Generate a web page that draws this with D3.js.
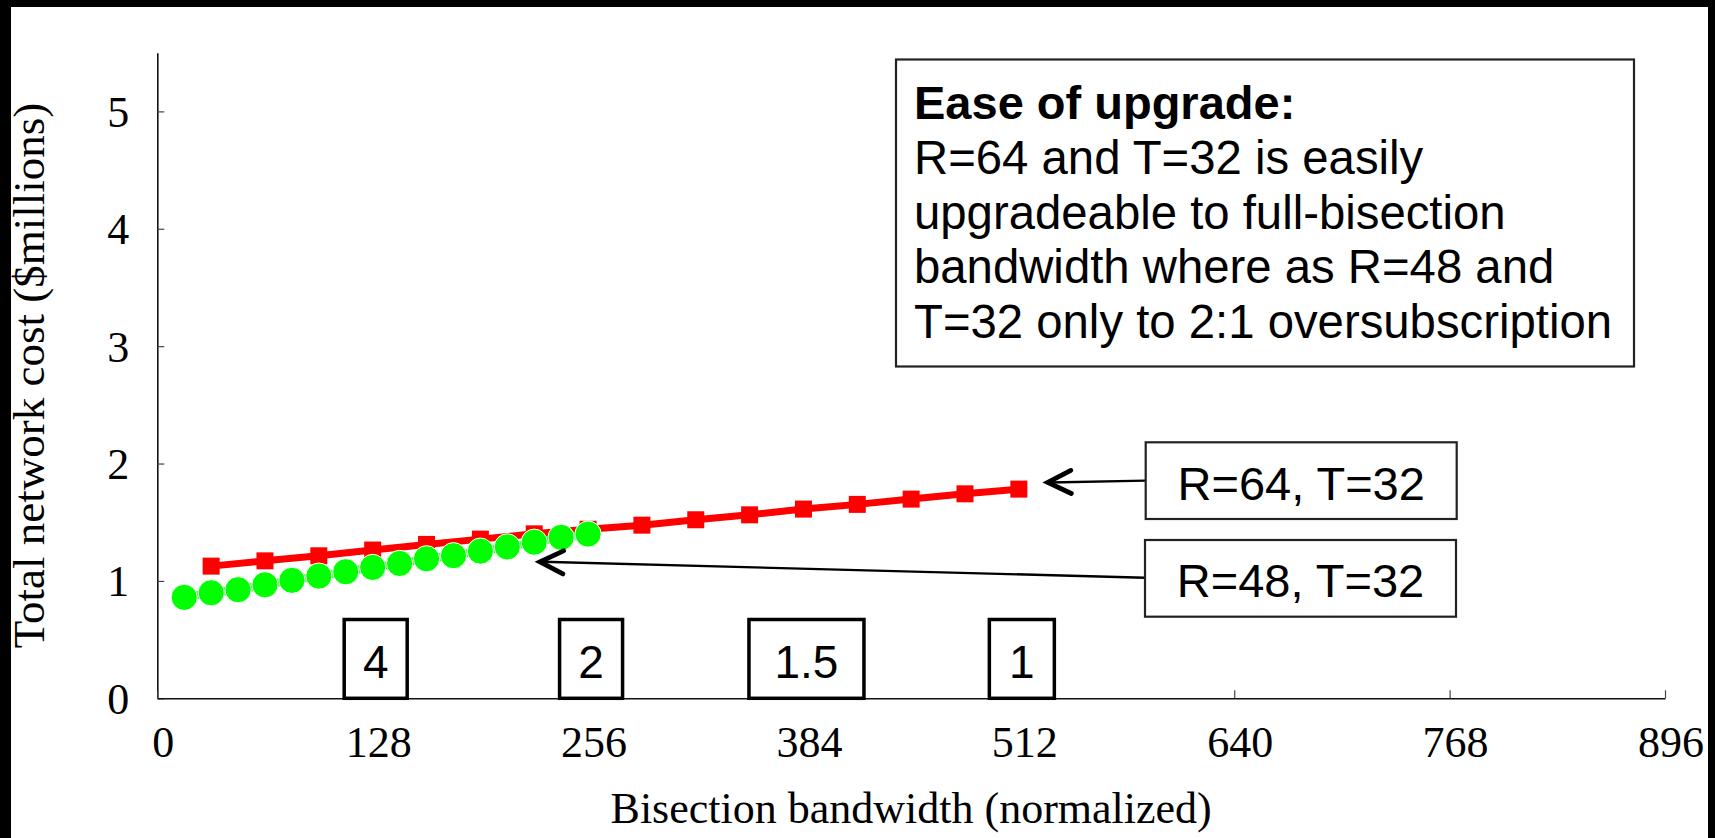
<!DOCTYPE html>
<html>
<head>
<meta charset="utf-8">
<script src="https://cdn.jsdelivr.net/npm/d3@7"></script>
<style>
  html, body { margin: 0; padding: 0; background: #fff; }
  svg { display: block; }
</style>
</head>
<body>
<svg id="chart" width="1715" height="838"></svg>
<script>
// ---- data ----
const xTickValues = [0, 128, 256, 384, 512, 640, 768, 896];
const yTickValues = [0, 1, 2, 3, 4, 5];

// R=48, T=32 : bisection bandwidth vs total cost ($M)
const r48Bandwidth = [16, 32, 48, 64, 80, 96, 112, 128, 144, 160, 176, 192, 208, 224, 240, 256];
const r48Cost = [0.860, 0.899, 0.925, 0.967, 1.005, 1.041, 1.078, 1.115, 1.149, 1.189, 1.215, 1.254, 1.290, 1.330, 1.371, 1.399];

// R=64, T=32
const r64Bandwidth = [32, 64, 96, 128, 160, 192, 224, 256, 288, 320, 352, 384, 416, 448, 480, 512];
const r64Cost = [1.126, 1.171, 1.214, 1.263, 1.311, 1.356, 1.401, 1.440, 1.475, 1.521, 1.563, 1.612, 1.652, 1.697, 1.742, 1.782];

// oversubscription ratio markers along the x axis
const ratioLabels = ["4", "2", "1.5", "1"];
const ratioBandwidth = [128, 256, 384, 512];

const seriesLabels = ["R=64, T=32", "R=48, T=32"];
const noteTitle = "Ease of upgrade:";
const noteLines = [
  "R=64 and T=32 is easily",
  "upgradeable to full-bisection",
  "bandwidth where as R=48 and",
  "T=32 only to 2:1 oversubscription"
];

// ---- layout ----
const W = 1715, H = 838;
const plot = { left: 157.3, right: 1665, top: 52.7, bottom: 698.3 };
const serif = "'Liberation Serif', 'Times New Roman', serif";
const sans = "'Liberation Sans', Arial, sans-serif";

const svg = d3.select("#chart");

svg.append("rect").attr("x", 0).attr("y", 0).attr("width", W).attr("height", H).attr("fill", "#fff");

const x = d3.scaleLinear().domain([0, 896]).range([plot.left, plot.right]);
const y = d3.scaleLinear().domain([0, 5.5]).range([plot.bottom, plot.top]);

// ---- axes ----
const yAxis = d3.axisLeft(y).tickValues(yTickValues).tickFormat(d3.format("d"))
  .tickSizeInner(-7).tickSizeOuter(0).tickPadding(28);
const gy = svg.append("g").attr("transform", `translate(${plot.left},0)`).call(yAxis);
gy.select(".domain").attr("stroke", "#111").attr("stroke-width", 1.6);
gy.selectAll(".tick line").attr("stroke", "#444").attr("stroke-width", 1.2);
gy.selectAll(".tick text")
  .attr("font-family", serif).attr("font-size", 44).attr("fill", "#000")
  .attr("dy", "0.34em");

const xAxis = d3.axisBottom(x).tickValues(xTickValues).tickFormat(d3.format("d"))
  .tickSizeInner(-8).tickSizeOuter(0).tickPadding(0);
const gx = svg.append("g").attr("transform", `translate(0,${plot.bottom})`).call(xAxis);
gx.select(".domain").attr("stroke", "#111").attr("stroke-width", 1.6);
gx.selectAll(".tick line").attr("stroke", "#444").attr("stroke-width", 1.2);
gx.selectAll(".tick text")
  .attr("font-family", serif).attr("font-size", 44).attr("fill", "#000")
  .attr("y", 58.4).attr("dy", 0).attr("dx", 5.5);

svg.append("text")
  .attr("x", (plot.left + plot.right) / 2).attr("y", 823)
  .attr("text-anchor", "middle")
  .attr("font-family", serif).attr("font-size", 44).attr("fill", "#000")
  .text("Bisection bandwidth (normalized)");

svg.append("text")
  .attr("transform", "translate(44,375.5) rotate(-90)")
  .attr("text-anchor", "middle")
  .attr("font-family", serif).attr("font-size", 45).attr("fill", "#000")
  .text("Total network cost ($millions)");

// ---- oversubscription ratio boxes ----
const ratioBoxWidth = [63, 63, 115, 65];
const ratioBoxTop = 619.5;
const ratioG = svg.append("g");
ratioLabels.forEach((lab, i) => {
  const cx = x(ratioBandwidth[i]) + 3;
  const w = ratioBoxWidth[i];
  ratioG.append("rect")
    .attr("x", cx - w / 2).attr("y", ratioBoxTop)
    .attr("width", w).attr("height", plot.bottom - ratioBoxTop)
    .attr("fill", "#fff").attr("stroke", "#000").attr("stroke-width", 3.5);
  ratioG.append("text")
    .attr("x", cx).attr("y", 678)
    .attr("text-anchor", "middle")
    .attr("font-family", sans).attr("font-size", 46).attr("fill", "#000")
    .text(lab);
});

// ---- series ----
const r64 = r64Bandwidth.map((b, i) => ({ b, c: r64Cost[i] }));
const r48 = r48Bandwidth.map((b, i) => ({ b, c: r48Cost[i] }));
const line = d3.line().x(d => x(d.b)).y(d => y(d.c));

svg.append("path").datum(r64)
  .attr("d", line).attr("fill", "none")
  .attr("stroke", "#ff0000").attr("stroke-width", 7);
svg.append("g").selectAll("rect").data(r64).join("rect")
  .attr("x", d => x(d.b) - 8.5).attr("y", d => y(d.c) - 8.5)
  .attr("width", 17).attr("height", 17)
  .attr("fill", "#ff0000");

svg.append("path").datum(r48)
  .attr("d", line).attr("fill", "none")
  .attr("stroke", "#00ff00").attr("stroke-width", 8);
svg.append("g").selectAll("circle").data(r48).join("circle")
  .attr("cx", d => x(d.b)).attr("cy", d => y(d.c)).attr("r", 13.1)
  .attr("fill", "#00ff00").attr("stroke", "#fff").attr("stroke-width", 1);

// ---- series callouts ----
const callouts = [
  { label: seriesLabels[0], tip: [529.2, 1.839], box: { x0: 1145.7, x1: 1456.7, y0: 442.3, y1: 519 }, base: 500, from: 480.6 },
  { label: seriesLabels[1], tip: [227.4, 1.163], box: { x0: 1145, x1: 1456, y0: 540, y1: 616.7 }, base: 596.7, from: 577.7 }
];
callouts.forEach(c => {
  const tx = x(c.tip[0]), ty = y(c.tip[1]);
  const fx = c.box.x0, fy = c.from;
  svg.append("line")
    .attr("x1", fx).attr("y1", fy).attr("x2", tx + 2).attr("y2", ty)
    .attr("stroke", "#000").attr("stroke-width", 2.4);
  const ang = Math.atan2(fy - ty, fx - tx);
  const len = 26, spread = 0.46;
  const p1 = [tx + len * Math.cos(ang - spread), ty + len * Math.sin(ang - spread)];
  const p2 = [tx + len * Math.cos(ang + spread), ty + len * Math.sin(ang + spread)];
  svg.append("path")
    .attr("d", `M${p1[0]},${p1[1]}L${tx},${ty}L${p2[0]},${p2[1]}`)
    .attr("fill", "none").attr("stroke", "#000").attr("stroke-width", 4.8)
    .attr("stroke-linecap", "round").attr("stroke-linejoin", "miter");
  svg.append("rect")
    .attr("x", c.box.x0).attr("y", c.box.y0)
    .attr("width", c.box.x1 - c.box.x0).attr("height", c.box.y1 - c.box.y0)
    .attr("fill", "#fff").attr("stroke", "#222").attr("stroke-width", 2.2);
  svg.append("text")
    .attr("x", (c.box.x0 + c.box.x1) / 2).attr("y", c.base)
    .attr("text-anchor", "middle")
    .attr("font-family", sans).attr("font-size", 47).attr("fill", "#000")
    .text(c.label);
});

// ---- note box ----
const note = svg.append("g");
note.append("rect")
  .attr("x", 896).attr("y", 59.5).attr("width", 1634 - 896).attr("height", 366.5 - 59.5)
  .attr("fill", "#fff").attr("stroke", "#222").attr("stroke-width", 2.2);
note.append("text")
  .attr("x", 914).attr("y", 119)
  .attr("font-family", sans).attr("font-size", 47).attr("font-weight", "bold").attr("fill", "#000")
  .text(noteTitle);
note.selectAll("text.line").data(noteLines).join("text")
  .attr("class", "line")
  .attr("x", 914).attr("y", (d, i) => 174 + i * 54.5)
  .attr("font-family", sans).attr("font-size", 47.3).attr("fill", "#000")
  .text(d => d);

// ---- frame edges ----
svg.append("rect").attr("x", 0).attr("y", 0).attr("width", W).attr("height", 7).attr("fill", "#000");
svg.append("rect").attr("x", 0).attr("y", 0).attr("width", 11).attr("height", H).attr("fill", "#000");
svg.append("rect").attr("x", 1708).attr("y", 0).attr("width", 7).attr("height", H).attr("fill", "#000");
</script>
</body>
</html>
